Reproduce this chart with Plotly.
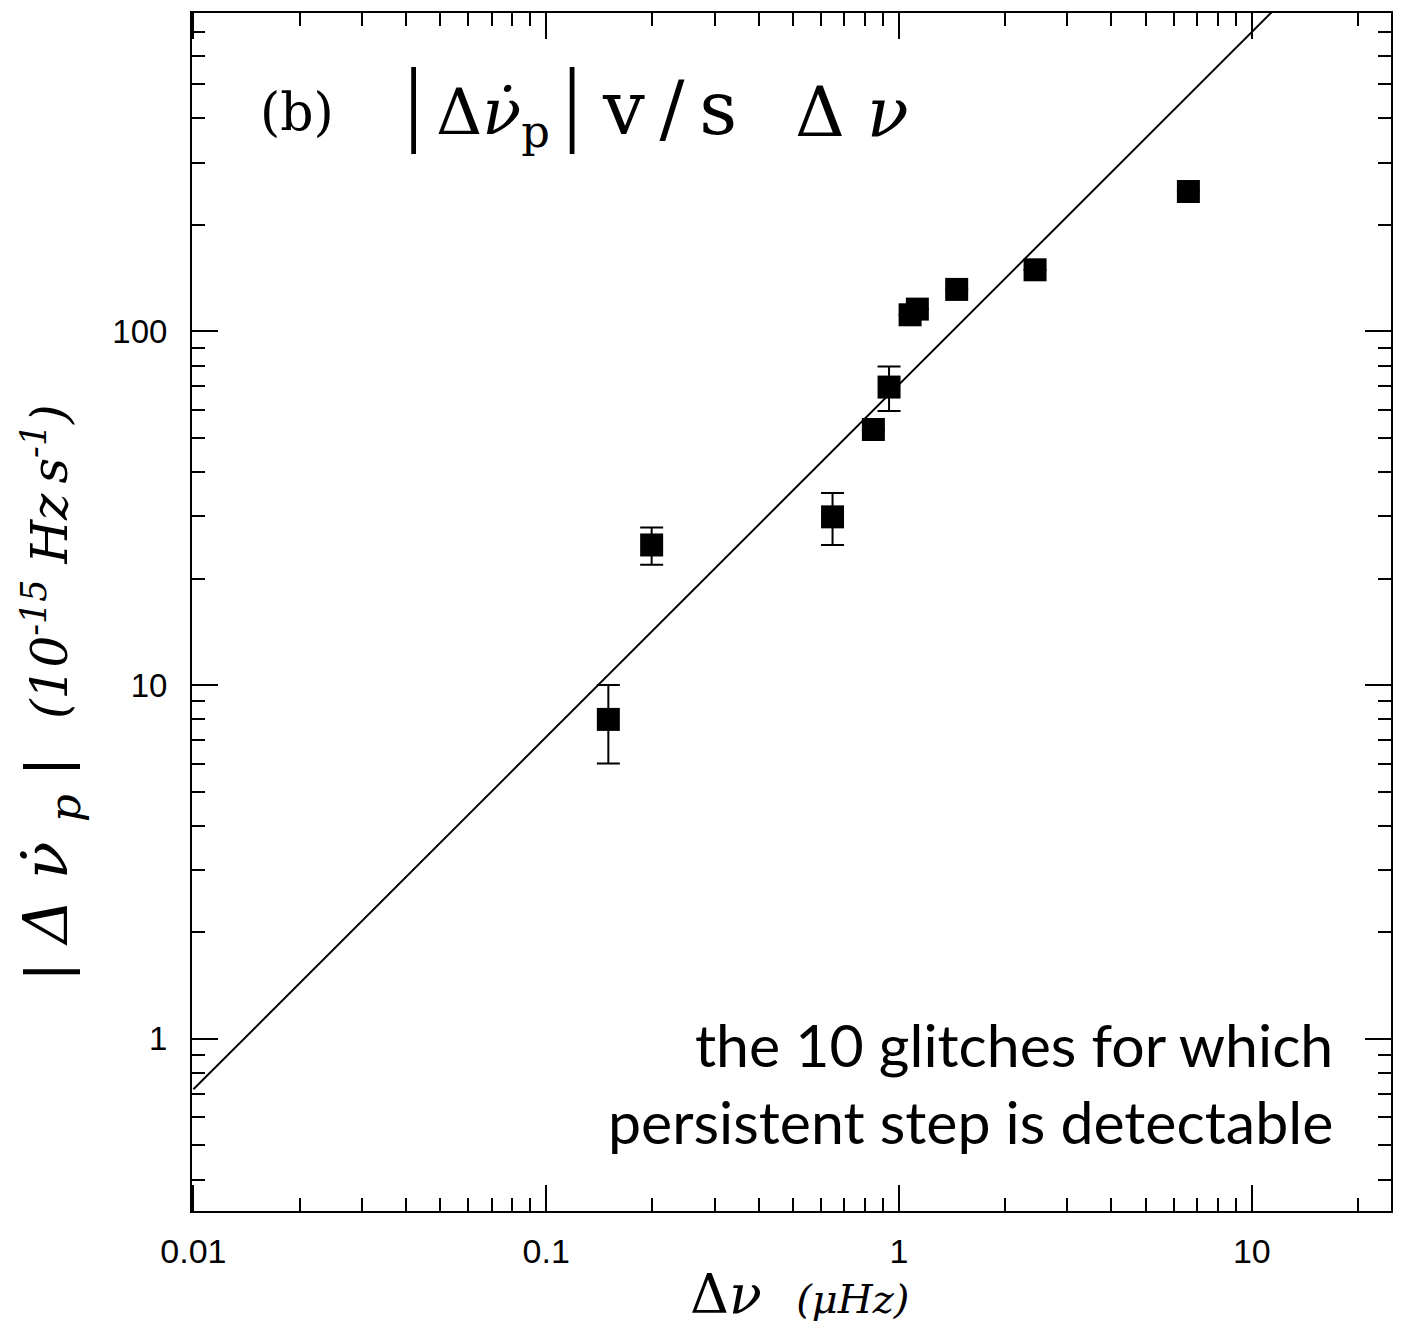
import plotly.graph_objects as go

# ---- data ----
dnu = [0.150, 0.199, 0.648, 0.846, 0.937, 1.075, 1.127, 1.457, 2.43, 6.61]          # Δν (μHz)
dnudot_p = [8.0, 24.9, 29.9, 52.8, 69.6, 111.4, 115.6, 131.4, 149.3, 248.5]       # |Δν̇p| (1e-15 Hz/s)
dnudot_err = [2, 3, 5, None, 10, None, None, None, None, None]

fit_x = [0.01, 20.0]
fit_y = [0.72, 1400.0]

x_tickvals = [0.01, 0.1, 1, 10]
x_ticktext = ["0.01", "0.1", "1", "10"]
y_tickvals = [1, 10, 100]
y_ticktext = ["1", "10", "100"]

x_minor = [m * 10 ** e for e in range(-2, 2) for m in range(2, 10)]
y_minor = [m * 10 ** e for e in range(-1, 3) for m in range(2, 10)]

fig = go.Figure()

fig.add_trace(go.Scatter(
    x=fit_x, y=fit_y, mode="lines",
    line=dict(color="black", width=2), showlegend=False, hoverinfo="skip"))

fig.add_trace(go.Scatter(
    x=dnu, y=dnudot_p, mode="markers",
    marker=dict(symbol="square", size=23, color="black", line=dict(width=0)),
    error_y=dict(type="data", array=dnudot_err, symmetric=True,
                 color="black", thickness=2, width=11.5),
    showlegend=False))

axis_common = dict(
    type="log", showline=True, linecolor="black", linewidth=2, mirror="allticks",
    ticks="inside", ticklen=26, tickwidth=2, tickcolor="black",
    showgrid=False, zeroline=False,
)
sans = "Liberation Sans, Arial, sans-serif"

fig.update_xaxes(
    **axis_common, range=[-2.004, 1.3945],
    tickvals=x_tickvals, ticktext=x_ticktext,
    tickfont=dict(family=sans, size=34, color="black"), ticklabelstandoff=9,
    minor=dict(tickvals=x_minor, ticks="inside", ticklen=13, tickwidth=2, tickcolor="black", showgrid=False),
)
fig.update_yaxes(
    **axis_common, range=[-0.4866, 2.9],
    tickvals=y_tickvals, ticktext=y_ticktext,
    tickfont=dict(family=sans, size=33, color="black"), ticklabelstandoff=16,
    minor=dict(tickvals=y_minor, ticks="inside", ticklen=13, tickwidth=2, tickcolor="black", showgrid=False),
)

serif = "DejaVu Serif, Liberation Serif, serif"
ts = "\u2009"  # thin space
bar = "<span style='font-family:Liberation Serif;font-size:96px'>|</span>"
anns = [
    dict(text="(b)", x=0.055, y=0.917, font=dict(family=serif, size=52)),
    dict(text=bar + ts + "Δ<i>ν̇</i><sub>p</sub>" + ts + bar,
         x=0.1751, y=0.925, font=dict(family=serif, size=64)),
    dict(text="v" + ts + "/" + ts + "s", x=0.3403, y=0.921, font=dict(family=serif, size=74)),
    dict(text="Δ <i>ν</i>", x=0.5013, y=0.917, font=dict(family=serif, size=69)),
]
for a in anns:
    fig.add_annotation(xref="paper", yref="paper", xanchor="left", yanchor="middle",
                       showarrow=False, **a)

# y-axis title
fig.add_annotation(
    xref="paper", yref="paper", x=-0.1184, y=0.4327, xanchor="center", yanchor="middle",
    textangle=-90, showarrow=False,
    text="<span style='font-family:Liberation Sans'>|</span> <i>Δ ν̇ <sub>p</sub></i> "
         "<span style='font-family:Liberation Sans'>|</span>"
         "  <span style='font-size:50px'><i>(10<sup>-15</sup> Hz" + ts + "s<sup>-1</sup>)</i></span>",
    font=dict(family=serif, size=62, color="black"))

# x-axis title
fig.add_annotation(
    xref="paper", yref="paper", x=0.507, y=-0.0696, xanchor="center", yanchor="middle",
    showarrow=False,
    text="Δ<i>ν</i>  <span style='font-size:40px'><i>(μHz)</i></span>",
    font=dict(family=serif, size=54, color="black"))

# note
fig.add_annotation(
    xref="paper", yref="paper", x=0.9533, y=0.107, xanchor="right", yanchor="middle",
    align="right", showarrow=False,
    text="the 10 glitches for which<br>persistent step is detectable",
    font=dict(family="Lato, sans-serif", size=59, color="black"))

fig.update_layout(
    width=1405, height=1325,
    margin=dict(l=192, r=14, t=11, b=114),
    paper_bgcolor="white", plot_bgcolor="white",
    font=dict(color="black"),
)

fig.write_html("out.html")
